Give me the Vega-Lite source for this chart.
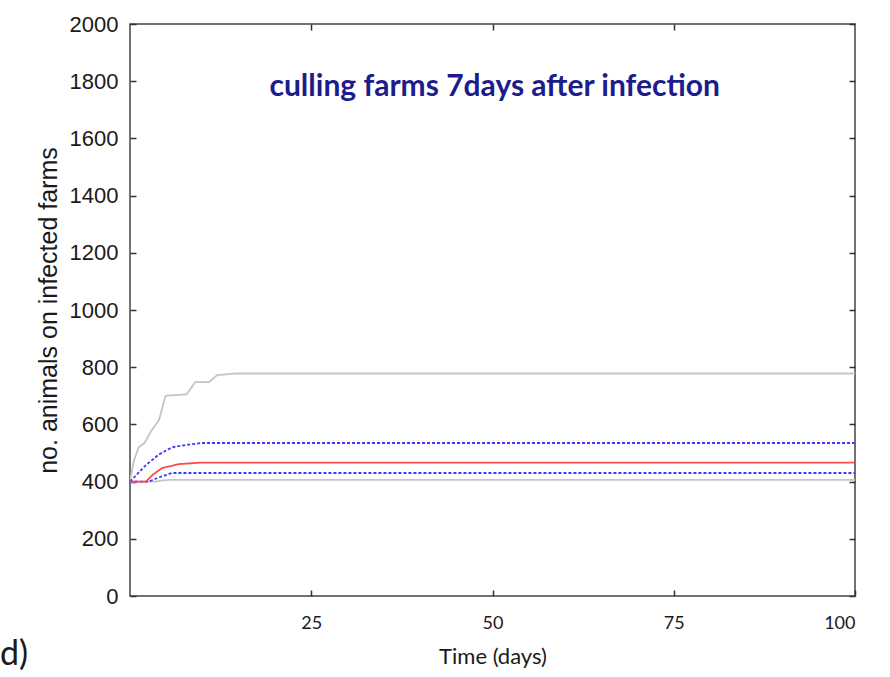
{
  "$schema": "https://vega.github.io/schema/vega-lite/v6.json",
  "width": 725,
  "height": 572,
  "autosize": {"type": "none"},
  "padding": {"left": 130, "top": 24, "right": 35, "bottom": 81},
  "background": "white",
  "config": {
    "view": {"stroke": "#444", "strokeWidth": 1.5},
    "axis": {"grid": false, "domain": false, "tickColor": "#333", "tickWidth": 1.5, "tickSize": -6, "labelColor": "#1a1a1a", "titleColor": "#1a1a1a", "titleFontWeight": "normal"}
  },
  "datasets": {
    "lines": [
      {"series": "max", "day": 0, "value": 400},
      {"series": "max", "day": 0.5, "value": 470},
      {"series": "max", "day": 1.2, "value": 520},
      {"series": "max", "day": 2, "value": 535},
      {"series": "max", "day": 3, "value": 580},
      {"series": "max", "day": 4, "value": 615},
      {"series": "max", "day": 4.9, "value": 700},
      {"series": "max", "day": 7.8, "value": 705},
      {"series": "max", "day": 9, "value": 748},
      {"series": "max", "day": 10.9, "value": 748},
      {"series": "max", "day": 12, "value": 772},
      {"series": "max", "day": 14.5, "value": 778},
      {"series": "max", "day": 100, "value": 778},
      {"series": "min", "day": 0, "value": 400},
      {"series": "min", "day": 3.5, "value": 400},
      {"series": "min", "day": 4.5, "value": 404},
      {"series": "min", "day": 5.5, "value": 406},
      {"series": "min", "day": 100, "value": 406},
      {"series": "upper", "day": 0, "value": 400},
      {"series": "upper", "day": 2.2, "value": 458},
      {"series": "upper", "day": 4, "value": 495},
      {"series": "upper", "day": 5.8, "value": 520},
      {"series": "upper", "day": 7.7, "value": 528},
      {"series": "upper", "day": 9.9, "value": 535},
      {"series": "upper", "day": 100, "value": 535},
      {"series": "lower", "day": 0, "value": 400},
      {"series": "lower", "day": 2.6, "value": 400},
      {"series": "lower", "day": 4, "value": 415},
      {"series": "lower", "day": 5.8, "value": 430},
      {"series": "lower", "day": 100, "value": 430},
      {"series": "median", "day": 0, "value": 400},
      {"series": "median", "day": 2.2, "value": 400},
      {"series": "median", "day": 3.2, "value": 425},
      {"series": "median", "day": 4.4, "value": 447},
      {"series": "median", "day": 6.7, "value": 461},
      {"series": "median", "day": 9.5, "value": 466},
      {"series": "median", "day": 100, "value": 466}
    ],
    "title": [
      {"label": "culling farms 7days after infection", "day": 50.3, "value": 1778}
    ],
    "panel": [
      {"label": "d)", "day": -16, "value": -206}
    ]
  },
  "resolve": {"axis": {"x": "independent", "y": "independent"}},
  "layer": [
    {
      "data": {"name": "lines"},
      "mark": {"type": "line", "clip": true},
      "encoding": {
        "x": {"field": "day", "type": "quantitative", "scale": {"domain": [0, 100], "nice": false, "zero": false},
              "axis": {"orient": "bottom", "values": [25, 50, 75, 100], "labelFont": "Lato", "labelFontSize": 18, "labelPadding": 24, "title": "Time (days)", "titleFont": "Lato", "titleFontSize": 22, "titlePadding": 14}},
        "y": {"field": "value", "type": "quantitative", "scale": {"domain": [0, 2000], "nice": false},
              "axis": {"orient": "left", "format": "d", "values": [0, 200, 400, 600, 800, 1000, 1200, 1400, 1600, 1800, 2000], "labelFont": "Liberation Sans", "labelFontSize": 22, "labelPadding": 18, "title": "no. animals on infected farms", "titleFont": "Liberation Sans", "titleFontSize": 25, "titlePadding": 8}},
        "color": {"field": "series", "type": "nominal", "legend": null,
                  "scale": {"domain": ["max", "min", "upper", "lower", "median"], "range": ["#c4c4c4", "#c4c4c4", "#3a3aff", "#3a3aff", "#ff4a4a"]}},
        "strokeDash": {"field": "series", "type": "nominal", "legend": null,
                  "scale": {"domain": ["max", "min", "upper", "lower", "median"], "range": [[1, 0], [1, 0], [3, 2], [3, 2], [1, 0]]}},
        "strokeWidth": {"field": "series", "type": "nominal", "legend": null,
                  "scale": {"domain": ["max", "min", "upper", "lower", "median"], "range": [1.8, 1.8, 2.5, 2.5, 3]}},
        "order": {"field": "day", "type": "quantitative"}
      }
    },
    {
      "data": {"name": "title"},
      "mark": {"type": "text", "font": "Lato", "fontWeight": "bold", "fontSize": 30, "color": "#1c1c8c", "clip": false},
      "encoding": {
        "x": {"field": "day", "type": "quantitative", "scale": {"domain": [0, 100], "nice": false, "zero": false},
              "axis": {"orient": "top", "values": [25, 50, 75], "labels": false, "title": null}},
        "y": {"field": "value", "type": "quantitative", "scale": {"domain": [0, 2000], "nice": false},
              "axis": {"orient": "right", "values": [0, 200, 400, 600, 800, 1000, 1200, 1400, 1600, 1800, 2000], "labels": false, "title": null}},
        "text": {"field": "label"}
      }
    },
    {
      "data": {"name": "panel"},
      "mark": {"type": "text", "font": "Lato", "fontSize": 34, "color": "#1a1a1a", "clip": false},
      "encoding": {
        "x": {"field": "day", "type": "quantitative", "scale": {"domain": [0, 100], "nice": false, "zero": false}, "axis": null},
        "y": {"field": "value", "type": "quantitative", "scale": {"domain": [0, 2000], "nice": false}, "axis": null},
        "text": {"field": "label"}
      }
    }
  ]
}
